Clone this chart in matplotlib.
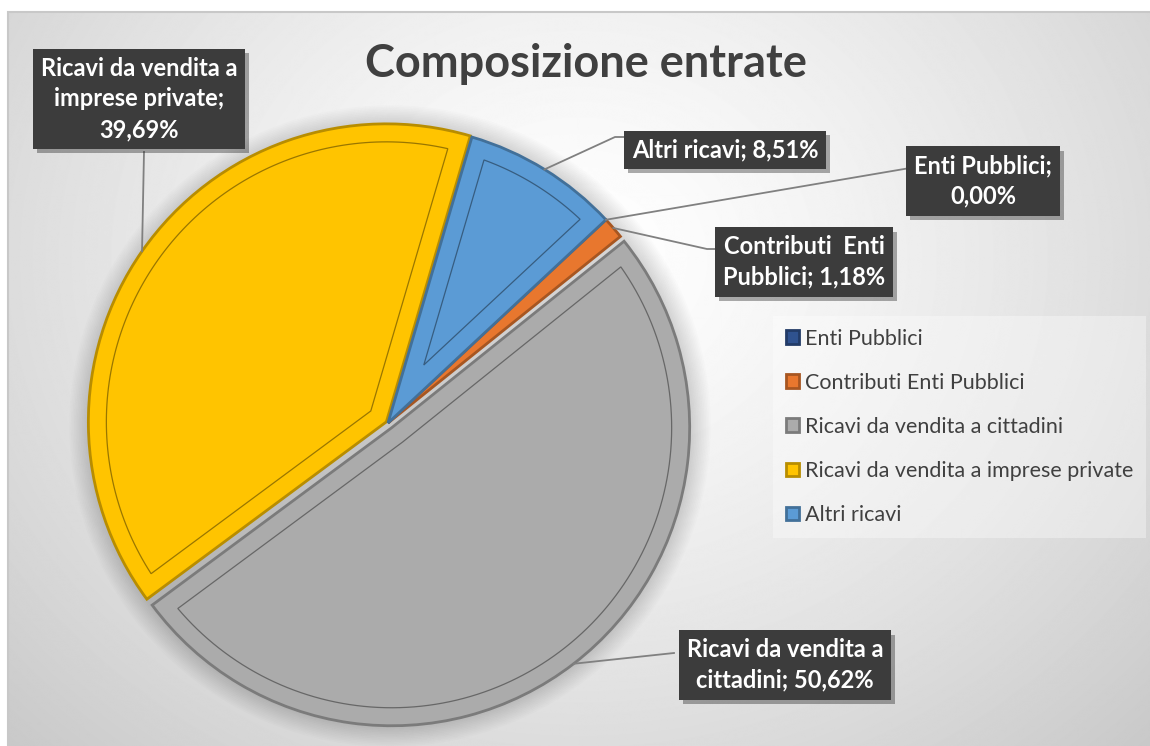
import numpy as np
import matplotlib.pyplot as plt
import matplotlib.colors as mcolors
import matplotlib.patheffects as pe
from matplotlib.patches import Polygon, Rectangle, Circle

plt.rcParams['font.family'] = ['Lato', 'DejaVu Sans']

# data
categories = ["Enti Pubblici", "Contributi Enti Pubblici", "Ricavi da vendita a cittadini",
              "Ricavi da vendita a imprese private", "Altri ricavi"]
shares = [0.00, 1.18, 50.62, 39.69, 8.51]
label_templates = ["Enti Pubblici;\n{}%", "Contributi  Enti\nPubblici; {}%",
                   "Ricavi da vendita a\ncittadini; {}%", "Ricavi da vendita a\nimprese private;\n{}%",
                   "Altri ricavi; {}%"]
colors = ['#2F528F', '#E8772E', '#ABABAB', '#FFC400', '#5B9BD5']

W, H = 1150, 746
def px(x, y):
    # pixel position (top-left origin) -> data coords
    return x, H - y

# layout of the label boxes and leader elbows (pixels)
box_pos = [(983, 181), (804, 262), (785, 665), (139, 99), (725, 150)]
leader_pts = [[(910, 168)], [(707, 249), (720, 249)], [(674, 653)], [(144, 152)], [(615, 137), (630, 137)]]
explode = [0, 0, 6, 2, 0]


def shade(c, f):
    r, g, b = mcolors.to_rgb(c)
    return (r * f, g * f, b * f)


def inset_poly(w, d):
    cx, cy = w.center
    r = w.r
    t1, t2 = np.radians(w.theta1), np.radians(w.theta2)
    span = t2 - t1
    if span < 2.5 * d / r:
        return None
    rr = r - d
    delta = np.arcsin(d / rr)
    arc = np.linspace(t1 + delta, t2 - delta, 120)
    pts = [(cx + rr * np.cos(a), cy + rr * np.sin(a)) for a in arc]
    if span < np.pi:
        mid = (t1 + t2) / 2
        k = d / np.sin(span / 2)
        pts.append((cx + k * np.cos(mid), cy + k * np.sin(mid)))
    else:
        pts.append((cx + d * np.cos(t2 - np.pi / 2), cy + d * np.sin(t2 - np.pi / 2)))
        pts.append((cx + d * np.cos(t1 + np.pi / 2), cy + d * np.sin(t1 + np.pi / 2)))
    return pts


fig = plt.figure(figsize=(11.5, 7.46), dpi=100)
fig.patch.set_facecolor('white')
ax = fig.add_axes([0, 0, 1, 1])

# radial gradient background
gx, gy = np.meshgrid(np.arange(W), np.arange(H))
t = np.sqrt(((gx - 575) / 650.0) ** 2 + ((gy - 250) / 560.0) ** 2)
bg = np.clip(1 - 0.16 * t ** 1.3, 0, 1)
ax.imshow(bg, cmap='gray', vmin=0, vmax=1, extent=[8, W, 0, H - 12],
          origin='upper', zorder=0, aspect='auto', interpolation='bilinear')
ax.add_patch(Rectangle((8, -5), W + 10, H - 12 + 5, fill=False, ec='#c8c8c8', lw=1.5, zorder=1))

center = px(388, 423)
radius = 298

# soft shadow behind the pie
for k in range(14):
    ax.add_patch(Circle((center[0] + 2, center[1] - 3), radius + 2 + k * 1.6,
                        color='black', alpha=0.012, lw=0, zorder=1))

wedges, _ = ax.pie(shares, colors=colors, startangle=43, counterclock=False,
                   center=center, radius=radius, explode=explode, normalize=True,
                   wedgeprops=dict(linewidth=2))
for w, c in zip(wedges, colors):
    w.set_edgecolor(shade(c, 0.72))
    w.set_zorder(2)
    pts = inset_poly(w, 18)
    if pts is not None:
        ax.add_patch(Polygon(pts, closed=True, fill=False, ec=shade(c, 0.6), lw=0.9, zorder=3))

# labels with leaders
for w, tpl, pos, elbow, v in zip(wedges, label_templates, box_pos, leader_pts, shares):
    mid = np.radians((w.theta1 + w.theta2) / 2)
    sx = w.center[0] + w.r * np.cos(mid)
    sy = w.center[1] + w.r * np.sin(mid)
    xs = [sx] + [p[0] for p in elbow]
    ys = [sy] + [H - p[1] for p in elbow]
    ax.plot(xs, ys, color='#808080', lw=1.3, zorder=4)
    txt = ax.text(*px(*pos), tpl.format(f"{v:.2f}".replace('.', ',')), ha='center', va='center',
                  color='white', fontsize=17, weight='bold', linespacing=1.4, zorder=6,
                  bbox=dict(boxstyle='square,pad=0.33', fc='#3c3c3c', ec='none'))
    txt.get_bbox_patch().set_path_effects([pe.SimplePatchShadow(offset=(3, -3), alpha=0.35), pe.Normal()])

ax.text(*px(586, 64), 'Composizione entrate', ha='center', va='center',
        fontsize=32.5, weight='bold', color='#404040', zorder=6)

leg = ax.legend(wedges, categories, loc='upper left', bbox_to_anchor=(762 / W, 1 - 305 / H),
                bbox_transform=fig.transFigure, fontsize=15.5, frameon=True, facecolor='white',
                framealpha=0.35, edgecolor='none', fancybox=False, handlelength=0.6,
                handleheight=0.6, handletextpad=0.3, labelspacing=1.12, borderpad=0.6)
for tx in leg.get_texts():
    tx.set_color('#404040')

ax.set_xlim(0, W)
ax.set_ylim(0, H)
ax.set_aspect('auto')
ax.axis('off')

fig.savefig('out.png', dpi=100)
